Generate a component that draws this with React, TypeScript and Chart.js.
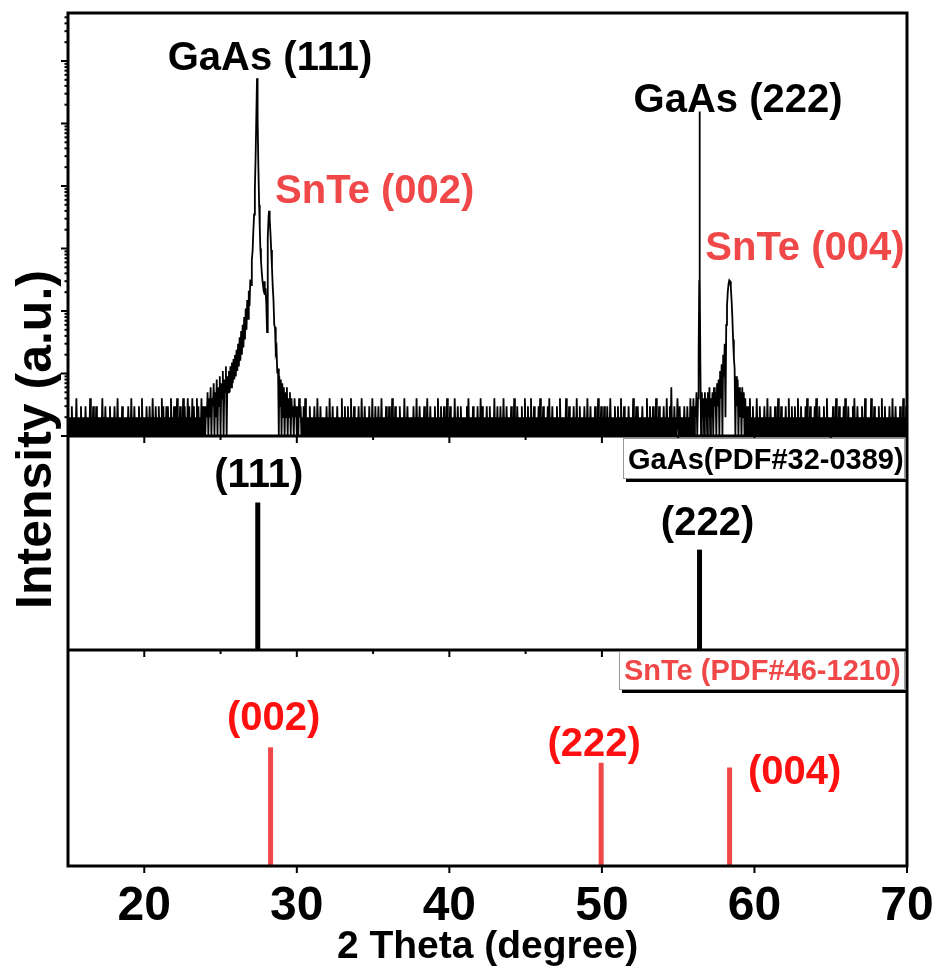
import React, { useEffect, useRef } from "react";
import { Chart, registerables } from "chart.js";

Chart.register(...registerables);

// ---------------------------------------------------------------------------
// Measured scan (counts). Background: one digit per 0.05° step, each row
// starts at the listed 2θ. Peak regions are listed point by point and replace
// the background inside their 2θ range.
// ---------------------------------------------------------------------------
const backgroundStep = 0.05;
const backgroundStart = [15, 20, 30, 35, 40, 45, 50, 60, 65, 70];
const backgroundRows = [
  "1212131212 1412121312 1213121214 1213121312 1212141213 1212131212 1312141212 1312121213 1214121312 1213121412",
  "1213121312 1412131213 1214131213 1312141213 1314121312 1413121413 1214131214 1312141313",
  "1212131212 1412121312 1213121412 1312121213 1214121312 1213121214 1213121312 1412131212 1312141213 1212131214",
  "1213121312 1412121312 1312141213 1212131212 1412131212 1213121412 1312121312 1412131212 1312141213 1213121412",
  "1312121412 1312131212 1213141212 1312121312 1413121213 1213121214 1213121312 1412131212 1312141213 1212131214",
  "1213121412 1312121314 1213121213 1412131212 1312141212 1214121312 1213121412 1312121312 1412131212 1312141213",
  "1213121312 1412121312 1312141213 1212131212 1412131312 1213121214 1213121312 1412131212 1312141213 1612131214",
  "1214121312 1213121412 1312121312 1412131212 1312141213 1213121412 1312121314 1213121213 1412131212 1312141212",
  "1213121412 1312121314 1213121213 1412131212 1312141212 1214121312 1213121412 1312121312 1412131212 1312141213",
  "1",
];

// GaAs (111) + SnTe (002) region
const peakRegionATheta = [
  24.0, 24.05, 24.1, 24.15, 24.2, 24.25, 24.3, 24.35, 24.4, 24.45, 24.5, 24.55,
  24.6, 24.65, 24.7, 24.75, 24.8, 24.85, 24.9, 24.95, 25.0, 25.05, 25.1, 25.15,
  25.2, 25.25, 25.3, 25.35, 25.4, 25.45, 25.5, 25.55, 25.6, 25.65, 25.7, 25.75,
  25.8, 25.85, 25.9, 25.95, 26.0, 26.05, 26.1, 26.15, 26.2, 26.25, 26.3, 26.35,
  26.4, 26.45, 26.5, 26.55, 26.6, 26.65, 26.7, 26.75, 26.8, 26.85, 26.9, 26.95,
  27.0, 27.05, 27.1, 27.15, 27.2, 27.25, 27.3, 27.35, 27.39, 27.43, 27.48, 27.53,
  27.57, 27.61, 27.65, 27.7, 27.75, 27.8, 27.85, 27.9, 27.95, 28.0, 28.05, 28.08,
  28.11, 28.15, 28.18, 28.22, 28.27, 28.32, 28.37, 28.42, 28.47, 28.52, 28.57, 28.62,
  28.67, 28.72, 28.77, 28.82, 28.85, 28.9, 28.95, 29.0, 29.05, 29.1, 29.15, 29.2,
  29.25, 29.3, 29.35, 29.4, 29.45, 29.5, 29.55, 29.6, 29.65, 29.7, 29.75, 29.8,
  29.85, 29.9, 29.95, 30.0, 30.05, 30.1, 30.15, 30.2, 30.25, 30.3, 30.35, 30.4,
  30.45, 30.5,
];
const peakRegionACounts = [
  1, 3, 2, 5, 1, 4, 2, 6, 1, 4, 3, 7,
  1, 5, 2, 8, 1, 6, 3, 9, 1, 7, 4, 11,
  1, 8, 5, 13, 1, 9, 5, 11, 5, 13, 6, 15,
  7, 17, 8, 20, 9, 24, 11, 30, 13, 38, 16, 48,
  20, 60, 26, 80, 35, 110, 50, 150, 75, 210, 120, 320,
  260, 650, 900, 1900, 3500, 9000, 30000, 150000, 530000, 120000, 20000, 5000,
  2200, 1000, 650, 420, 300, 240, 300, 180, 230, 130, 46, 500,
  1500, 3200, 4000, 3000, 1800, 950, 500, 250, 150, 60, 55, 22,
  25, 10, 12, 1, 9, 3, 8, 1, 7, 2, 6, 1,
  5, 2, 6, 1, 4, 2, 5, 1, 4, 2, 3, 1,
  4, 2, 3, 1, 3, 1, 4, 2, 3, 1, 2, 1,
  3, 1,
];

// GaAs (222) + SnTe (004) region
const peakRegionBTheta = [
  55.0, 55.05, 55.1, 55.15, 55.2, 55.25, 55.3, 55.35, 55.4, 55.45, 55.5, 55.55,
  55.6, 55.65, 55.7, 55.75, 55.8, 55.85, 55.9, 55.95, 56.0, 56.05, 56.1, 56.15,
  56.2, 56.25, 56.3, 56.34, 56.38, 56.4, 56.42, 56.45, 56.5, 56.55, 56.6, 56.65,
  56.7, 56.75, 56.8, 56.85, 56.9, 56.95, 57.0, 57.05, 57.1, 57.15, 57.2, 57.25,
  57.3, 57.35, 57.4, 57.45, 57.5, 57.55, 57.6, 57.65, 57.7, 57.75, 57.8, 57.85,
  57.9, 57.95, 58.0, 58.05, 58.1, 58.15, 58.2, 58.25, 58.3, 58.35, 58.4, 58.45,
  58.5, 58.55, 58.6, 58.65, 58.7, 58.75, 58.8, 58.85, 58.9, 58.95, 59.0, 59.05,
  59.1, 59.15, 59.2, 59.25, 59.3, 59.35, 59.4, 59.45, 59.5, 59.55, 59.6, 59.65,
  59.7, 59.75, 59.8, 59.85, 59.9, 59.95,
];
const peakRegionBCounts = [
  2, 1, 3, 1, 2, 1, 2, 1, 3, 1, 2, 1,
  3, 1, 2, 1, 4, 1, 3, 1, 4, 1, 3, 2,
  5, 1, 4, 20, 300, 155000, 400, 18, 1, 5, 2, 4,
  1, 5, 2, 4, 1, 5, 2, 6, 1, 4, 2, 5,
  1, 6, 3, 5, 1, 7, 3, 8, 1, 11, 4, 14,
  1, 20, 9, 30, 2, 60, 120, 200, 270, 310, 300, 240,
  150, 80, 35, 18, 12, 1, 9, 3, 8, 1, 6, 2,
  5, 1, 6, 2, 5, 1, 4, 1, 3, 1, 3, 1,
  4, 1, 2, 1, 3, 1,
];

// Labelled scan peaks
const scanPeakTheta = [27.39, 28.18, 56.4, 58.35];
const scanPeakCounts = [530000, 4000, 155000, 310];
const scanPeakNames = ["GaAs (111)", "SnTe (002)", "GaAs (222)", "SnTe (004)"];

// Reference patterns
const gaasRefTheta = [27.44, 56.4];
const gaasRefIntensity = [100, 68];
const gaasRefHkl = ["(111)", "(222)"];

const snteRefTheta = [28.28, 49.95, 58.37];
const snteRefIntensity = [100, 87, 83];
const snteRefHkl = ["(002)", "(222)", "(004)"];

const gaasCardName = "GaAs(PDF#32-0389)";
const snteCardName = "SnTe (PDF#46-1210)";

// Axes
const xMin = 15;
const xMax = 70;
const xTickValues = [20, 30, 40, 50, 60, 70];
const xMinorTickValues = [20, 25, 30, 35, 40, 45, 50, 55, 60, 65];
const scanMin = 1;
const scanMax = 5.86e6;
const xTitle = "2 Theta (degree)";
const yTitle = "Intensity (a.u.)";

// ---------------------------------------------------------------------------
const FONT = "'Liberation Sans', Arial, Helvetica, sans-serif";
const BLACK = "#000000";
const RED_SOFT = "#f04848";
const RED = "#ff1010";

type Pt = { x: number; y: number };

function buildScan(): Pt[] {
  const aMin = peakRegionATheta[0];
  const aMax = peakRegionATheta[peakRegionATheta.length - 1];
  const bMin = peakRegionBTheta[0];
  const bMax = peakRegionBTheta[peakRegionBTheta.length - 1];
  const pts: Pt[] = [];
  backgroundStart.forEach((start, r) => {
    const digits = backgroundRows[r].replace(/\s/g, "");
    for (let j = 0; j < digits.length; j++) {
      const t = Math.round((start + j * backgroundStep) * 100) / 100;
      if ((t >= aMin && t <= aMax) || (t >= bMin && t <= bMax)) continue;
      pts.push({ x: t, y: Number(digits[j]) });
    }
  });
  peakRegionATheta.forEach((t, i) => pts.push({ x: t, y: peakRegionACounts[i] }));
  peakRegionBTheta.forEach((t, i) => pts.push({ x: t, y: peakRegionBCounts[i] }));
  pts.sort((a, b) => a.x - b.x);
  return pts;
}

function stickDatasets(thetas: number[], values: number[], axis: string, color: string) {
  return thetas.map((t, i) => ({
    type: "line" as const,
    data: [
      { x: t, y: 0 },
      { x: t, y: values[i] },
    ],
    yAxisID: axis,
    borderColor: color,
    borderWidth: 5,
    borderCapStyle: "butt" as const,
    pointRadius: 0,
    tension: 0,
  }));
}

// Label placement next to each mark (pixel offsets from the mark's top)
const scanLabelStyle = [
  { color: BLACK, align: "center", dx: 13, dy: -8 },
  { color: RED_SOFT, align: "left", dx: 6, dy: -8 },
  { color: BLACK, align: "left", dx: -66, dy: 0 },
  { color: RED_SOFT, align: "left", dx: -24, dy: -20 },
];
const gaasLabelOffset = [
  { dx: 1, dy: -15 },
  { dx: 8, dy: -15 },
];
const snteLabelOffset = [
  { dx: 3, dy: -17 },
  { dx: -7, dy: -7 },
  { dx: 65, dy: 17 },
];

const decorPlugin = {
  id: "xrdDecor",
  afterDatasetsDraw(chart: any) {
    const { ctx, chartArea: area, scales } = chart;
    const xs = scales.x;
    const yScan = scales.yScan;
    const yG = scales.yGaAs;
    const yS = scales.ySnTe;
    const seg = (x1: number, y1: number, x2: number, y2: number) => {
      ctx.beginPath();
      ctx.moveTo(x1, y1);
      ctx.lineTo(x2, y2);
      ctx.stroke();
    };
    const text = (s: string, x: number, y: number, size: number, color: string, align = "center") => {
      ctx.font = `bold ${size}px ${FONT}`;
      ctx.fillStyle = color;
      ctx.textAlign = align;
      ctx.textBaseline = "alphabetic";
      ctx.fillText(s, x, y);
    };

    ctx.save();
    ctx.strokeStyle = BLACK;
    ctx.lineCap = "butt";

    // tick marks on the log axis of the scan panel
    ctx.lineWidth = 2;
    for (let d = 0; d <= 7; d++) {
      for (let m = 1; m <= 9; m++) {
        const v = m * Math.pow(10, d);
        if (v > yScan.max) break;
        const py = yScan.getPixelForValue(v);
        const len = m === 1 ? 7 : 3.5;
        seg(area.left - len, py, area.left, py);
      }
    }

    // 2θ tick marks below each panel
    [yScan.bottom, yG.bottom].forEach((py: number) => {
      xMinorTickValues.forEach((v) => {
        const px = xs.getPixelForValue(v);
        seg(px, py, px, py + (v % 10 === 0 ? 7 : 4));
      });
    });
    xs.ticks.forEach((t: any) => {
      const px = xs.getPixelForValue(t.value);
      seg(px, area.bottom, px, area.bottom + 7);
    });

    // frame and panel separators
    ctx.lineWidth = 3;
    ctx.strokeRect(area.left, area.top, area.right - area.left, area.bottom - area.top);
    seg(area.left, yScan.bottom, area.right, yScan.bottom);
    seg(area.left, yG.bottom, area.right, yG.bottom);

    // tick labels and axis titles
    xs.ticks.forEach((t: any) => {
      text(String(t.value), xs.getPixelForValue(t.value), area.bottom + 54, 48, BLACK);
    });
    text(xTitle, (area.left + area.right) / 2, area.bottom + 92, 39, BLACK);
    ctx.save();
    ctx.translate(51, (area.top + area.bottom) / 2);
    ctx.rotate(-Math.PI / 2);
    text(yTitle, 0, 0, 50, BLACK);
    ctx.restore();

    // peak names on the scan
    scanPeakNames.forEach((name, i) => {
      const st = scanLabelStyle[i];
      const px = xs.getPixelForValue(scanPeakTheta[i]);
      const py = yScan.getPixelForValue(scanPeakCounts[i]);
      text(name, px + st.dx, py + st.dy, 40, st.color, st.align);
    });

    // reflection indices of the reference cards
    gaasRefHkl.forEach((h, i) => {
      const px = xs.getPixelForValue(gaasRefTheta[i]);
      const py = yG.getPixelForValue(gaasRefIntensity[i]);
      text(h, px + gaasLabelOffset[i].dx, py + gaasLabelOffset[i].dy, 40, BLACK);
    });
    snteRefHkl.forEach((h, i) => {
      const px = xs.getPixelForValue(snteRefTheta[i]);
      const py = yS.getPixelForValue(snteRefIntensity[i]);
      text(h, px + snteLabelOffset[i].dx, py + snteLabelOffset[i].dy, 40, RED);
    });

    // card name boxes in the upper right of the reference panels
    const cardBox = (label: string, color: string, left: number, top: number, bottom: number) => {
      const right = area.right - 2;
      ctx.fillStyle = "#ffffff";
      ctx.fillRect(left, top, right - left, bottom - top);
      ctx.lineWidth = 1;
      ctx.strokeStyle = "#9a9a9a";
      ctx.strokeRect(left + 0.5, top + 0.5, right - left - 1, bottom - top - 1);
      ctx.fillStyle = BLACK;
      ctx.fillRect(left + 3, bottom, right - left, 3);
      text(label, left + 5, bottom - 10, 29, color, "left");
    };
    cardBox(gaasCardName, BLACK, area.right - 284, yG.top + 2, yG.top + 43);
    cardBox(snteCardName, RED_SOFT, area.right - 288, yS.top + 1, yS.top + 40);

    ctx.restore();
  },
};

export default function App() {
  const canvasRef = useRef<HTMLCanvasElement | null>(null);

  useEffect(() => {
    if (!canvasRef.current) return;
    const fixedWidth = (w: number) => (scale: any) => {
      scale.width = w;
    };
    // stacked left axes are laid out bottom-up in the order listed
    const chart = new Chart(canvasRef.current, {
      type: "line",
      data: {
        datasets: [
          {
            type: "line",
            label: "scan",
            data: buildScan(),
            yAxisID: "yScan",
            borderColor: BLACK,
            borderWidth: 1.8,
            pointRadius: 0,
            tension: 0,
          },
          ...stickDatasets(gaasRefTheta, gaasRefIntensity, "yGaAs", BLACK),
          ...stickDatasets(snteRefTheta, snteRefIntensity, "ySnTe", RED_SOFT),
        ] as any,
      },
      options: {
        responsive: false,
        animation: false,
        events: [],
        layout: { padding: { top: 13, right: 33, left: 0, bottom: 0 } },
        plugins: { legend: { display: false }, tooltip: { enabled: false } },
        scales: {
          x: {
            type: "linear",
            min: xMin,
            max: xMax,
            offset: false,
            grid: { display: false, drawTicks: false, offset: false },
            border: { display: false },
            ticks: { display: false },
            afterBuildTicks: (scale: any) => {
              scale.ticks = xTickValues.map((v) => ({ value: v }));
            },
            afterFit: (scale: any) => {
              scale.height = 108;
            },
          },
          ySnTe: {
            type: "linear",
            position: "left",
            stack: "panels",
            stackWeight: 216,
            min: 0,
            max: 182,
            grid: { display: false, drawTicks: false },
            border: { display: false },
            ticks: { display: false },
            afterFit: fixedWidth(68),
          },
          yGaAs: {
            type: "linear",
            position: "left",
            stack: "panels",
            stackWeight: 214,
            min: 0,
            max: 145,
            grid: { display: false, drawTicks: false },
            border: { display: false },
            ticks: { display: false },
            afterFit: fixedWidth(68),
          },
          yScan: {
            type: "logarithmic",
            position: "left",
            stack: "panels",
            stackWeight: 423,
            min: scanMin,
            max: scanMax,
            grid: { display: false, drawTicks: false },
            border: { display: false },
            ticks: { display: false },
            afterFit: fixedWidth(68),
          },
        },
      } as any,
      plugins: [decorPlugin],
    });
    return () => chart.destroy();
  }, []);

  return (
    <div style={{ position: "absolute", left: 0, top: 0, width: 940, height: 974, background: "#fff" }}>
      <canvas ref={canvasRef} width={940} height={974} />
    </div>
  );
}
